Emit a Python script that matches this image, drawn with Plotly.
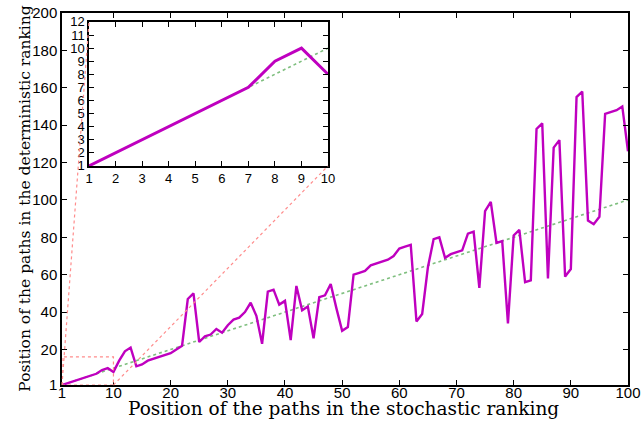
import plotly.graph_objects as go

# ---- data ----
stochastic_pos = list(range(1, 101))
deterministic_pos = [
    1, 2, 3, 4, 5, 6, 7, 9, 10, 8,
    14, 19, 21, 11, 12, 14, 15, 16, 17, 18,
    20, 22, 47, 50, 24, 27, 28, 31, 29, 33,
    36, 37, 40, 45, 38, 23, 51, 52, 44, 46,
    25, 54, 41, 43, 26, 48, 49, 55, 42, 30,
    32, 60, 61, 62, 65, 66, 67, 68, 70, 74,
    75, 76, 35, 39, 64, 79, 80, 69, 71, 72,
    73, 82, 83, 53, 94, 99, 77, 78, 34, 81,
    84, 56, 57, 138, 141, 58, 128, 132, 59, 63,
    155, 158, 89, 87, 91, 146, 147, 148, 150, 126,
]
diag = [1, 100]
inset_n = 10
zoom_box_y = [1, 16]

main_xticks = [1, 10, 20, 30, 40, 50, 60, 70, 80, 90, 100]
main_yticks = [1, 20, 40, 60, 80, 100, 120, 140, 160, 180, 200]
inset_xticks = list(range(1, 11))
inset_yticks = list(range(1, 13))

MAGENTA = "#BF00BF"
GREEN = "#7FBF7F"
RED = "#FF8C8C"

fig = go.Figure()

# main
fig.add_trace(go.Scatter(x=diag, y=diag, mode="lines",
                         line=dict(color=GREEN, width=1.6, dash="dot"),
                         xaxis="x", yaxis="y", hoverinfo="skip"))
fig.add_trace(go.Scatter(x=stochastic_pos, y=deterministic_pos, mode="lines",
                         line=dict(color=MAGENTA, width=2.4),
                         xaxis="x", yaxis="y"))
# inset
fig.add_trace(go.Scatter(x=[1, inset_n], y=[1, inset_n], mode="lines",
                         line=dict(color=GREEN, width=1.6, dash="dot"),
                         xaxis="x2", yaxis="y2", hoverinfo="skip"))
fig.add_trace(go.Scatter(x=stochastic_pos[:inset_n], y=deterministic_pos[:inset_n],
                         mode="lines", line=dict(color=MAGENTA, width=3),
                         xaxis="x2", yaxis="y2"))

inset_x = [0.0477, 0.470]
inset_y = [0.589, 0.976]

tickfont = dict(family="Liberation Sans, Arial, sans-serif", size=15, color="black")
itickfont = dict(family="Liberation Sans, Arial, sans-serif", size=13, color="black")
axcommon = dict(showgrid=False, zeroline=False, showline=True, linecolor="black",
                linewidth=1.5, mirror="ticks", ticks="inside", ticklen=5,
                tickcolor="black", tickwidth=1, automargin=False)

fig.update_layout(
    width=643, height=425, autosize=False,
    margin=dict(l=62, r=15, t=13, b=40, autoexpand=False),
    paper_bgcolor="white", plot_bgcolor="white",
    showlegend=False,
    xaxis=dict(domain=[0, 1], range=[1, 100], tickvals=main_xticks,
               showticklabels=False, **axcommon),
    # labels of the main x axis, lifted slightly closer to the frame
    xaxis3=dict(overlaying="x", anchor="free", position=0.009, range=[1, 100],
                tickvals=main_xticks, tickfont=tickfont, showline=False,
                showgrid=False, zeroline=False, ticks="", automargin=False),
    yaxis=dict(domain=[0, 1], range=[1, 200], tickvals=main_yticks,
               tickfont=tickfont, ticklabelstandoff=0, **axcommon),
    xaxis2=dict(domain=inset_x, range=[1, 10], tickvals=inset_xticks, anchor="y2",
                tickfont=itickfont, ticklabelstandoff=0, **axcommon),
    yaxis2=dict(domain=inset_y, range=[1, 12], tickvals=inset_yticks, anchor="x2",
                tickfont=itickfont, ticklabelstandoff=0, **axcommon),
    shapes=[
        dict(type="rect", xref="paper", yref="paper",
             x0=inset_x[0], x1=inset_x[1], y0=inset_y[0], y1=inset_y[1],
             fillcolor="white", line=dict(width=0), layer="below"),
        dict(type="rect", xref="x", yref="y", x0=1, x1=inset_n,
             y0=zoom_box_y[0], y1=zoom_box_y[1],
             line=dict(color=RED, width=1.2, dash="dot")),
        dict(type="line", xref="paper", yref="paper", x0=0, y0=0,
             x1=inset_x[0], y1=inset_y[1],
             line=dict(color=RED, width=1.2, dash="dot")),
        dict(type="line", xref="paper", yref="paper", x0=(inset_n - 1) / 99, y0=0,
             x1=inset_x[1], y1=inset_y[0],
             line=dict(color=RED, width=1.2, dash="dot")),
    ],
    annotations=[
        dict(text="Position of the paths in the stochastic ranking",
             xref="paper", yref="paper", x=0.498, y=-0.063, yanchor="middle",
             xanchor="center", showarrow=False,
             font=dict(family="DejaVu Serif, serif", size=18.5, color="black")),
        dict(text="Position of the paths in the deterministic ranking",
             xref="paper", yref="paper", x=-0.066, y=0.5, textangle=-90,
             xanchor="center", yanchor="middle", showarrow=False,
             font=dict(family="DejaVu Serif, serif", size=15.5, color="black")),
    ],
)

# invisible trace so the label axis is drawn
fig.add_trace(go.Scatter(x=diag, y=diag, mode="lines", line=dict(width=0),
                         opacity=0, xaxis="x3", yaxis="y", hoverinfo="skip"))

fig.write_html("out.html", config={"displayModeBar": False},
               post_script="document.body.style.margin='0';document.body.style.overflow='hidden';")
